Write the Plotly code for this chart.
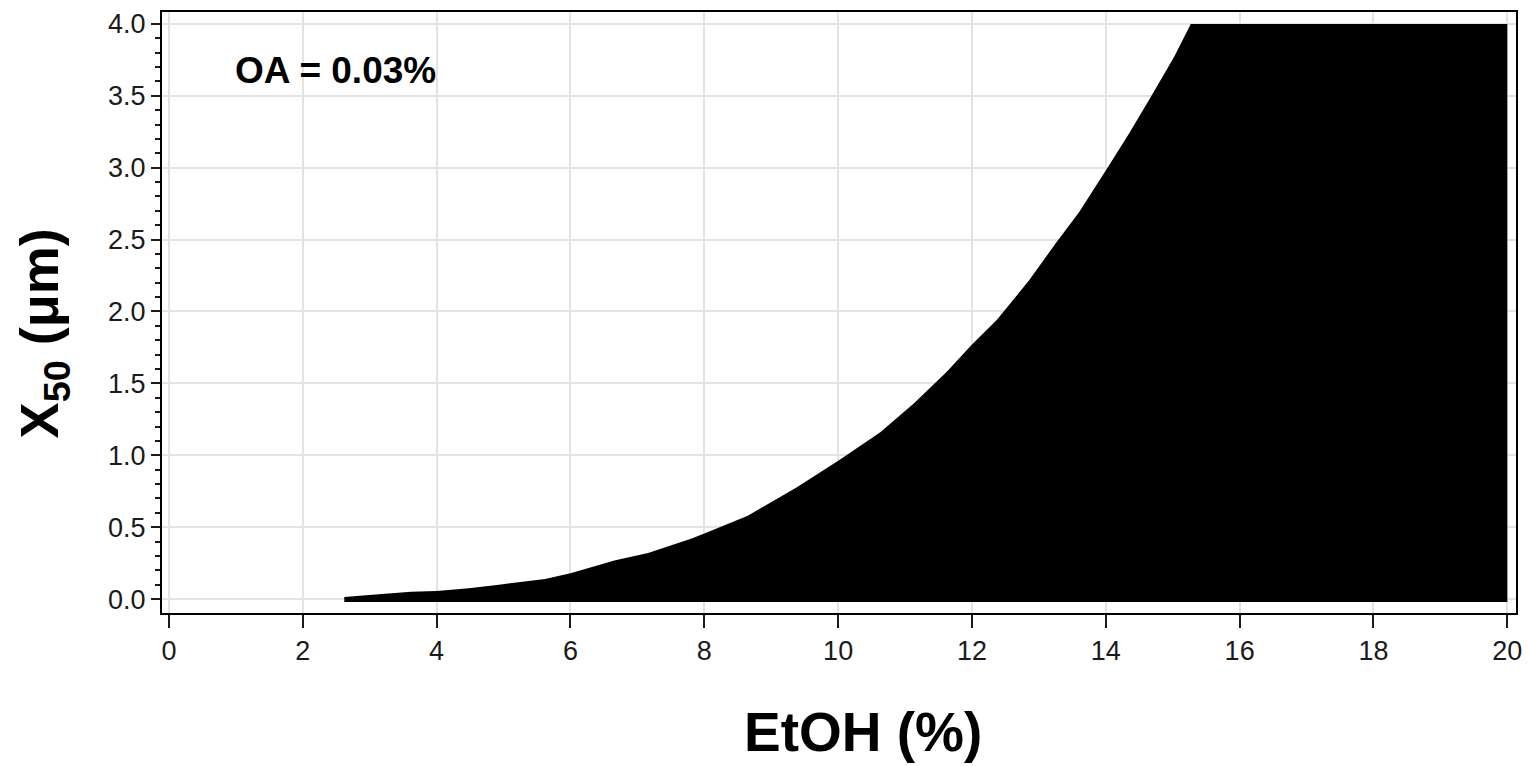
import plotly.graph_objects as go

# Boundary of the black region
etoh = [2.62, 3.18, 3.62, 4.0, 4.48, 4.93, 5.62, 6.0, 6.67, 7.16, 7.8, 8.02,
        8.65, 9.39, 10.03, 10.63, 11.13, 11.62, 12.0, 12.37, 12.86, 13.26,
        13.6, 14.0, 14.35, 14.67, 15.02, 15.27]
x50 = [0.014, 0.035, 0.05, 0.056, 0.076, 0.10, 0.14, 0.18, 0.27, 0.32, 0.42, 0.46,
       0.58, 0.78, 0.97, 1.16, 1.36, 1.58, 1.77, 1.94, 2.22, 2.48,
       2.69, 2.98, 3.24, 3.49, 3.77, 4.0]
etoh_max = 20.0
x50_cap = 4.0
x50_floor = -0.02

x_ticks = [0, 2, 4, 6, 8, 10, 12, 14, 16, 18, 20]
y_ticks = [0.0, 0.5, 1.0, 1.5, 2.0, 2.5, 3.0, 3.5, 4.0]

poly_x = [etoh[0]] + etoh + [etoh_max, etoh_max, etoh[0]]
poly_y = [x50_floor] + x50 + [x50_cap, x50_floor, x50_floor]

FONT = "Liberation Sans, Arial, sans-serif"

fig = go.Figure()
fig.add_trace(go.Scatter(
    x=poly_x, y=poly_y, mode="lines", fill="toself",
    fillcolor="black", line=dict(color="black", width=0),
    hoverinfo="skip", showlegend=False))

fig.update_layout(
    width=1529, height=766,
    margin=dict(l=162, r=7, t=12, b=153),
    paper_bgcolor="white", plot_bgcolor="white",
    font=dict(family=FONT, color="#1a1a1a", size=27),
    showlegend=False,
)

fig.update_xaxes(
    range=[-0.104, 20.13], tickvals=x_ticks, ticktext=[str(v) for v in x_ticks],
    showgrid=True, gridcolor="#e3e3e3", gridwidth=2,
    showline=True, linecolor="black", linewidth=2, mirror=True,
    ticks="outside", ticklen=13, tickwidth=2, tickcolor="#1a1a1a",
    tickfont=dict(size=27, family=FONT, color="#1a1a1a"),
    zeroline=False,
)
fig.update_yaxes(
    range=[-0.097, 4.083], tickvals=y_ticks, ticktext=[f"{v:.1f}" for v in y_ticks],
    showgrid=True, gridcolor="#e3e3e3", gridwidth=2,
    showline=True, linecolor="black", linewidth=2, mirror=True,
    ticks="outside", ticklen=9, tickwidth=2, tickcolor="#1a1a1a",
    tickfont=dict(size=27, family=FONT, color="#1a1a1a"),
    minor=dict(dtick=0.1, tick0=0, ticks="outside", ticklen=5, tickwidth=2,
               tickcolor="#1a1a1a", showgrid=False),
    zeroline=False,
)

fig.add_annotation(
    xref="paper", yref="paper", x=0.0522, y=0.902, xanchor="left", yanchor="middle",
    text="<b>OA = 0.03%</b>", showarrow=False,
    font=dict(family=FONT, size=37, color="black"))
fig.add_annotation(
    xref="paper", yref="paper", x=0.5176, y=-0.198, xanchor="center", yanchor="middle",
    text="<b>EtOH (%)</b>", showarrow=False,
    font=dict(family=FONT, size=55, color="black"))
fig.add_annotation(
    xref="paper", yref="paper", x=-0.088, y=0.465, xanchor="center", yanchor="middle",
    text="<b>X<sub>50</sub> (μm)</b>", showarrow=False, textangle=-90,
    font=dict(family=FONT, size=54, color="black"))

fig.write_html("out.html")
